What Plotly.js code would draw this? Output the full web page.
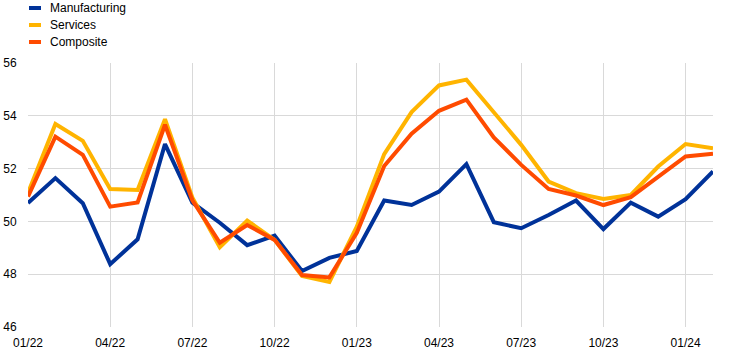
<!DOCTYPE html>
<html>
<head>
<meta charset="utf-8">
<script src="https://cdn.plot.ly/plotly-3.0.1.min.js"></script>
<style>
html,body{margin:0;padding:0;background:#fff;}
#chart{width:742px;height:353px;}
</style>
</head>
<body>
<div id="chart"></div>
<script>
var months = ["01/22","02/22","03/22","04/22","05/22","06/22","07/22","08/22","09/22","10/22","11/22","12/22",
              "01/23","02/23","03/23","04/23","05/23","06/23","07/23","08/23","09/23","10/23","11/23","12/23",
              "01/24","02/24"];
var tickLabels = ["01/22","04/22","07/22","10/22","01/23","04/23","07/23","10/23","01/24"];
var seriesNames = ["Manufacturing","Services","Composite"];
var manufacturing = [50.7,51.64,50.69,48.38,49.32,52.93,50.71,49.95,49.1,49.46,48.12,48.62,
                     48.88,50.79,50.62,51.13,52.17,49.97,49.74,50.24,50.79,49.71,50.71,50.18,50.84,51.89];
var services = [51.08,53.69,53.05,51.23,51.19,53.87,50.9,49.02,50.03,49.3,47.93,47.71,
                49.8,52.55,54.14,55.15,55.37,54.15,52.9,51.51,51.07,50.85,51.0,52.08,52.93,52.77];
var composite = [50.94,53.21,52.52,50.56,50.72,53.66,50.8,49.19,49.86,49.3,47.97,47.88,
                 49.57,52.1,53.32,54.19,54.61,53.18,52.14,51.23,50.98,50.62,50.92,51.7,52.46,52.56];
var colors = ["#003299","#FFB400","#FF4B00"];

var values = [manufacturing, services, composite];
var traces = values.map(function(v,i){
  return {x: months, y: v, type:"scatter", mode:"lines", name: seriesNames[i],
          line:{color: colors[i], width:4, shape:"linear"}, showlegend:false, hoverinfo:"skip"};
});

var L=28, R=713, T=63, B=327;
function px2x(p){return (p-L)/(R-L);}
function py2y(p){return (B-p)/(B-T);}
var shapes=[], annotations=[];
var rowY=[8,25,42];
for (var k=0;k<3;k++){
  shapes.push({type:"line", xref:"paper", yref:"paper", x0:px2x(29), x1:px2x(41), y0:py2y(rowY[k]), y1:py2y(rowY[k]),
               line:{color:colors[k], width:4}});
  annotations.push({xref:"paper", yref:"paper", x:px2x(48), y:py2y(rowY[k]), xanchor:"left", yanchor:"middle",
                    text:seriesNames[k], showarrow:false, font:{size:12, color:"#000", family:"Liberation Sans, Arial, sans-serif"}});
}

var layout = {
  width:742, height:353,
  margin:{l:L, r:742-R, t:T, b:353-B, pad:0},
  paper_bgcolor:"#fff", plot_bgcolor:"#fff",
  font:{family:"Liberation Sans, Arial, sans-serif", size:12, color:"#000"},
  showlegend:false,
  xaxis:{type:"category", range:[0, months.length-1], tickvals:tickLabels, ticktext:tickLabels,
         showgrid:true, gridcolor:"#d9d9d9", gridwidth:1, zeroline:false, showline:false,
         ticks:"outside", ticklen:5, tickcolor:"rgba(0,0,0,0)", tickfont:{size:12}},
  yaxis:{range:[46,56], dtick:2, tick0:46, showgrid:true, gridcolor:"#d9d9d9", gridwidth:1,
         zeroline:false, showline:false, ticks:"outside", ticklen:8, tickcolor:"rgba(0,0,0,0)", tickfont:{size:12}},
  shapes:shapes, annotations:annotations
};
Plotly.newPlot("chart", traces, layout, {displayModeBar:false, staticPlot:true});
</script>
</body>
</html>
